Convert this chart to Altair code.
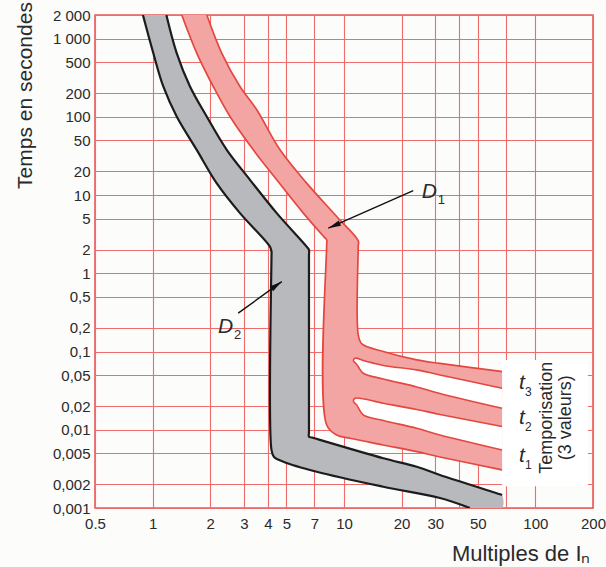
import altair as alt
import pandas as pd

# ---------------- axis grid / tick values ----------------
X_GRID = [0.5, 1, 2, 3, 4, 5, 7, 10, 20, 30, 40, 50, 70, 100, 200]
X_HIDDEN_LABELS = [40, 70]
Y_GRID = [0.001, 0.002, 0.005, 0.01, 0.02, 0.05, 0.1, 0.2, 0.5, 1, 2, 5,
          10, 20, 50, 100, 200, 500, 1000, 2000]
X_DOMAIN = [0.5, 200]
Y_DOMAIN = [0.001, 2000]

# ---------------- D2 (grey band) ----------------
D2_MIN_X = [0.89, 1.008, 1.137, 1.336, 1.70, 2.16, 2.861, 4.10, 4.18, 4.18, 4.18, 4.31, 4.82, 7.2, 16.04, 31.7, 45.5]
D2_MIN_Y = [2000, 653, 244, 100.9, 37.8, 14.2, 5.87, 2.195, 1.9, 1.7, 0.0055, 0.00449, 0.00391, 0.00291, 0.00187, 0.00134, 0.001]
D2_MAX_X = [1.18, 1.336, 1.568, 1.917, 2.44, 3.226, 4.45, 6.38, 6.56, 6.56, 6.56, 6.56, 6.80, 16.04, 23.98, 31.7, 66, 67]
D2_MAX_Y = [2000, 653, 244, 100.9, 37.8, 15.65, 5.87, 2.195, 1.99, 1.69, 0.00937, 0.00816, 0.00795, 0.00432, 0.00337, 0.00264, 0.00149, 0.00147]

# ---------------- D1 (red band) ----------------
D1_MIN_X = [1.42, 1.70, 2.075, 2.537, 3.357, 4.45, 6.13, 7.86, 8.12, 8.12, 8.12, 9.16, 10.75, 16.04, 23.98, 31.7, 66, 67]
D1_MIN_Y = [2000, 653, 244, 100.9, 37.8, 15.65, 5.87, 2.92, 2.674, 2.31, 0.0115, 0.00858, 0.00779, 0.00639, 0.00525, 0.00449, 0.00309, 0.00306]
D1_MAX_X = [1.92, 2.296, 2.861, 3.50, 4.63, 6.38, 9.16, 11.87, 11.87, 11.87, 12.4, 16.04, 23.98, 31.7, 66, 67]
D1_MAX_Y = [2000, 653, 244, 122.9, 37.8, 14.2, 5.31, 2.6, 2.2, 0.163, 0.125, 0.1, 0.0781, 0.0704, 0.0556, 0.0553]

# gaps between the three time-delay bands t3 / t2 / t1
GAP1_X = [67, 31.7, 23.98, 16.04, 12.87, 11.41, 11.2, 11.55, 11.9, 12.6, 16.04, 23.98, 31.7, 67]
GAP1_Y = [0.034, 0.0502, 0.0582, 0.0664, 0.0758, 0.0821, 0.0758, 0.0704, 0.0635, 0.0528, 0.0446, 0.0353, 0.0291, 0.0188]
GAP2_X = [67, 31.7, 23.98, 16.04, 11.41, 11.2, 11.65, 12.6, 16.04, 23.98, 31.7, 67]
GAP2_Y = [0.011, 0.0157, 0.0182, 0.0218, 0.0253, 0.0230, 0.0208, 0.0155, 0.01315, 0.01045, 0.00858, 0.00552]

BAND_END = 67
BOX_X = [67, 188]
BOX_Y = [0.0019, 0.078]

# annotations
D1_ARROW_X = [23.0, 8.28]
D1_ARROW_Y = [11.4, 3.77]
D2_ARROW_X = [2.80, 4.73]
D2_ARROW_Y = [0.309, 0.783]
D_LABEL_X = [25.5, 2.195]
D_LABEL_Y = [10.8, 0.206]
D_LABEL_SUB = ["1", "2"]
T_LABEL_X = [82.1, 82.1, 82.1]
T_LABEL_Y = [0.0397, 0.01416, 0.00462]
T_LABEL_SUB = ["3", "2", "1"]
TEMPO_X = [115.6, 144.5]
TEMPO_Y = [0.0142, 0.0142]
TEMPO_TEXT = ["Temporisation", "(3 valeurs)"]

FONT = "Liberation Sans Narrow, Liberation Sans, Arial, sans-serif"
GRID_RED = "#ee6c6c"
LINE_RED = "#e4473f"
FILL_RED = "#f3a5a4"
FILL_GREY = "#b7b9bd"
INK = "#2a2a2a"
CURVE = "catmull-rom"

x_labels = ("indexof([" + ",".join(str(v) for v in X_HIDDEN_LABELS) +
            "], datum.value) >= 0 ? '' : format(datum.value, '~g')")
y_labels = ("datum.value >= 1000 ? replace(format(datum.value, ','), ',', ' ')"
            " : replace(format(datum.value, '~g'), '.', ',')")

X_ENC = alt.X("x:Q", scale=alt.Scale(type="log", domain=X_DOMAIN, nice=False),
              axis=alt.Axis(values=X_GRID, labelExpr=x_labels, grid=True,
                            gridColor=GRID_RED, gridWidth=1.1, gridOpacity=1,
                            ticks=False, domain=False, labelFont=FONT, labelFontSize=15,
                            labelColor=INK, labelPadding=8, labelFlush=False,
                            labelOverlap=False,
                            title="Multiples de Iₙ", titleFont=FONT, titleFontSize=22,
                            titleFontWeight="normal", titleColor=INK,
                            titleX=495, titleY=52, titleAlign="right",
                            titleBaseline="alphabetic"))
Y_ENC = alt.Y("y:Q", scale=alt.Scale(type="log", domain=Y_DOMAIN, nice=False),
              axis=alt.Axis(values=Y_GRID, labelExpr=y_labels, grid=True,
                            gridColor=GRID_RED, gridWidth=1.1, gridOpacity=1,
                            ticks=False, domain=False, labelFont=FONT, labelFontSize=15,
                            labelColor=INK, labelPadding=5, labelFlush=False,
                            labelOverlap=False,
                            title="Temps en secondes", titleFont=FONT, titleFontSize=21,
                            titleFontWeight="normal", titleColor=INK,
                            titleX=-70, titleY=80, titleAngle=270,
                            titleAlign="center", titleBaseline="middle"))


def path_df(xs, ys):
    return pd.DataFrame({"x": xs, "y": ys, "i": list(range(len(xs)))})


def filled_path(xs, ys, fill, stroke=None, width=0):
    kw = dict(fill=fill, clip=True, interpolate=CURVE)
    if stroke is not None:
        kw.update(stroke=stroke, strokeWidth=width)
    else:
        kw.update(strokeOpacity=0)
    return alt.Chart(path_df(xs, ys)).mark_line(**kw).encode(
        x=X_ENC, y=Y_ENC, order=alt.Order("i:Q"))


def edge(xs, ys, color, width):
    return alt.Chart(path_df(xs, ys)).mark_line(
        color=color, strokeWidth=width, clip=True, strokeJoin="round",
        interpolate=CURVE).encode(
        x=X_ENC, y=Y_ENC, order=alt.Order("i:Q"))


box = alt.Chart(pd.DataFrame({"x": [BOX_X[0]], "x2": [BOX_X[1]],
                              "y": [BOX_Y[0]], "y2": [BOX_Y[1]]})).mark_rect(
    color="white").encode(x=X_ENC, x2="x2:Q", y=Y_ENC, y2="y2:Q")

red_poly = filled_path(D1_MIN_X + D1_MAX_X[::-1], D1_MIN_Y + D1_MAX_Y[::-1], FILL_RED)
gap1 = filled_path(GAP1_X, GAP1_Y, "white", LINE_RED, 1.6)
gap2 = filled_path(GAP2_X, GAP2_Y, "white", LINE_RED, 1.6)
red_lo = edge(D1_MIN_X, D1_MIN_Y, LINE_RED, 1.7)
red_hi = edge(D1_MAX_X, D1_MAX_Y, LINE_RED, 1.7)

grey_poly = filled_path(D2_MIN_X + [BAND_END] + D2_MAX_X[::-1],
                        D2_MIN_Y + [Y_DOMAIN[0]] + D2_MAX_Y[::-1], FILL_GREY)
grey_lo = edge(D2_MIN_X, D2_MIN_Y, "#1c1c1c", 2.2)
grey_hi = edge(D2_MAX_X, D2_MAX_Y, "#1c1c1c", 2.2)

ARROW_SHAPE = "M0,0L-0.55,2.4L0.55,2.4Z"


def arrow(xs, ys, ang):
    line = alt.Chart(path_df(xs, ys)).mark_line(color="#111", strokeWidth=1.4).encode(
        x=X_ENC, y=Y_ENC, order=alt.Order("i:Q"))
    head = alt.Chart(pd.DataFrame({"x": [xs[-1]], "y": [ys[-1]]})).mark_point(
        shape=ARROW_SHAPE, filled=True, size=110, angle=ang, color="#111",
        opacity=1).encode(x=X_ENC, y=Y_ENC)
    return line + head


arrow1 = arrow(D1_ARROW_X, D1_ARROW_Y, 246.5)
arrow2 = arrow(D2_ARROW_X, D2_ARROW_Y, 54.9)

d_df = pd.DataFrame({"x": D_LABEL_X, "y": D_LABEL_Y, "sub": D_LABEL_SUB})
d_main = alt.Chart(d_df).mark_text(text="D", font=FONT, fontSize=21, fontStyle="italic",
                                   align="left", baseline="middle", color=INK).encode(
    x=X_ENC, y=Y_ENC)
d_sub = alt.Chart(d_df).mark_text(font=FONT, fontSize=13, align="left", baseline="middle",
                                  dx=16, dy=8, color=INK).encode(
    x=X_ENC, y=Y_ENC, text="sub:N")

t_df = pd.DataFrame({"x": T_LABEL_X, "y": T_LABEL_Y, "sub": T_LABEL_SUB})
t_main = alt.Chart(t_df).mark_text(text="t", font=FONT, fontSize=21, fontStyle="italic",
                                   align="left", baseline="middle", color=INK).encode(
    x=X_ENC, y=Y_ENC)
t_sub = alt.Chart(t_df).mark_text(font=FONT, fontSize=12, align="left", baseline="middle",
                                  dx=6, dy=9, color=INK).encode(
    x=X_ENC, y=Y_ENC, text="sub:N")

tempo = alt.Chart(pd.DataFrame({"x": TEMPO_X, "y": TEMPO_Y, "txt": TEMPO_TEXT})).mark_text(
    font=FONT, fontSize=18, angle=270, align="center", baseline="middle", color=INK).encode(
    x=X_ENC, y=Y_ENC, text="txt:N")

chart = alt.layer(
    red_poly, gap1, gap2, red_lo, red_hi, grey_poly, grey_lo, grey_hi, box,
    arrow1, arrow2, d_main, d_sub, t_main, t_sub, tempo
).properties(
    width=498, height=493,
    autosize=alt.AutoSizeParams(type="none"),
    padding={"left": 95, "top": 15, "right": 13, "bottom": 59},
    background="#fcfcfb",
).configure_view(stroke="#e85858", strokeWidth=1.6)

chart.save("out.html", embed_options={"renderer": "svg", "actions": False})
